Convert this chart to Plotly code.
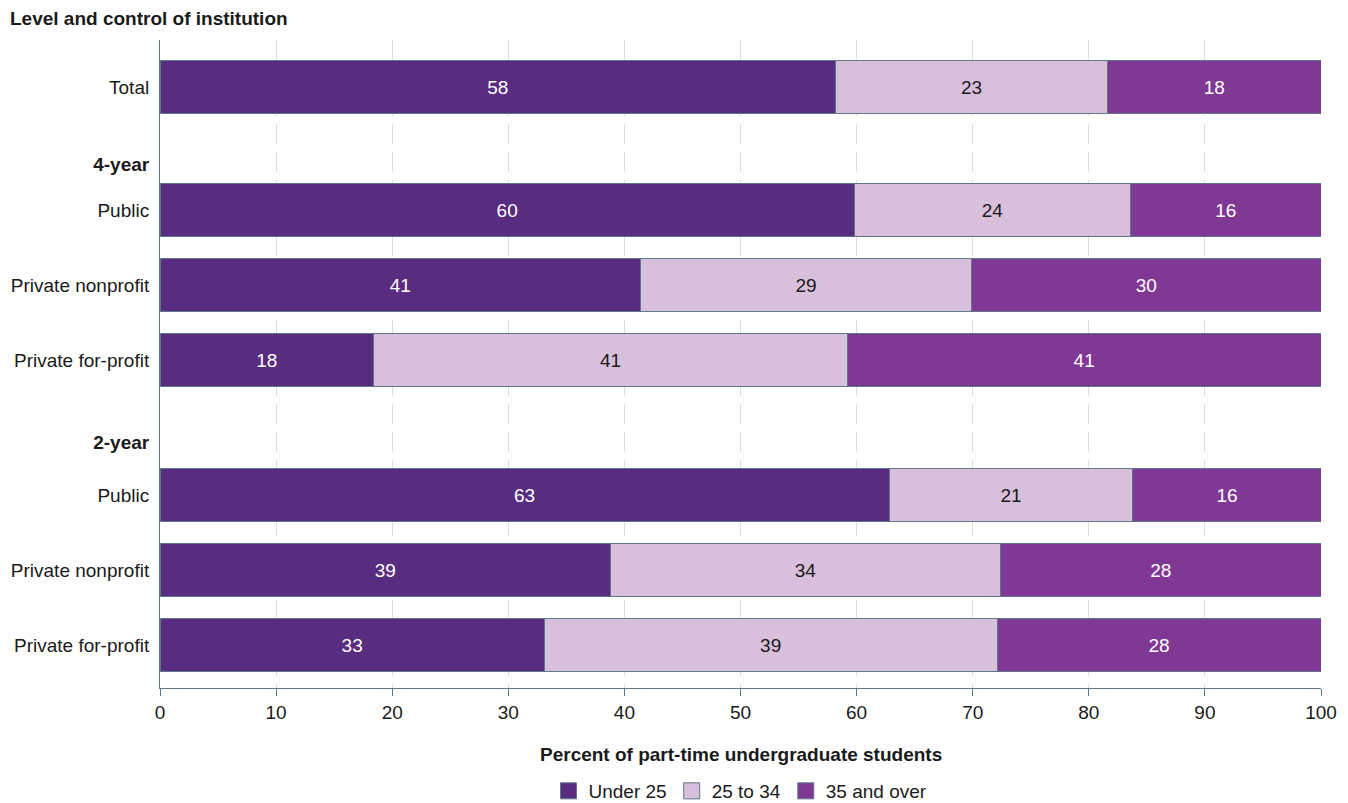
import plotly.graph_objects as go

# Rows from top to bottom; headers carry no bar
row_labels = ["Total", "4-year", "Public", "Private nonprofit", "Private for-profit",
              "2-year", "Public", "Private nonprofit", "Private for-profit"]
is_header = [False, True, False, False, False, True, False, False, False]

series_names = ["Under 25", "25 to 34", "35 and over"]
# Percent distribution for each bar row (Total, 4-year x3, 2-year x3)
under_25 = [58.2, 59.8, 41.4, 18.4, 62.8, 38.8, 33.1]
age_25_34 = [23.4, 23.8, 28.5, 40.8, 21.0, 33.6, 39.0]
over_35 = [18.4, 16.4, 30.1, 40.8, 16.2, 27.6, 27.9]

x_ticks = [0, 10, 20, 30, 40, 50, 60, 70, 80, 90, 100]

colors = ["#582c7e", "#d8bfdc", "#7f3995"]
text_colors = ["white", "#1a1a1a", "white"]
edge = "#5f7888"
font = "Liberation Sans, Arial, sans-serif"
fs = 19

# Vertical placement of rows (in row units, top = 0)
row_step = [0, 1.03, 0.61, 1.0, 1.0, 1.10, 0.70, 1.0, 1.0]
row_y = []
acc = 0.0
for s in row_step:
    acc += s
    row_y.append(acc)
bar_y = [y for y, h in zip(row_y, is_header) if not h]
tick_text = [f"<b>{t}</b>" if h else t for t, h in zip(row_labels, is_header)]

fig = go.Figure()
for name, vals, col, tcol in zip(series_names, [under_25, age_25_34, over_35], colors, text_colors):
    fig.add_trace(go.Bar(
        x=vals, y=bar_y, orientation="h", name=name,
        marker=dict(color=col, line=dict(color=edge, width=1)),
        width=0.707,
        text=vals, texttemplate="%{x:.0f}", textposition="inside",
        insidetextanchor="middle", textangle=0,
        textfont=dict(color=tcol, size=fs, family=font),
        showlegend=False, hoverinfo="skip",
    ))
    # Legend entry with a larger swatch
    fig.add_trace(go.Scatter(
        x=[None], y=[None], mode="markers", name=name,
        marker=dict(symbol="square", size=22, color=col, line=dict(color=edge, width=1)),
        showlegend=True,
    ))

fig.update_layout(
    barmode="stack",
    width=1348, height=803,
    margin=dict(l=160, r=27, t=40, b=115, autoexpand=False),
    paper_bgcolor="white", plot_bgcolor="white",
    font=dict(family=font, size=fs, color="#1a1a1a"),
    title=dict(text="<b>Level and control of institution</b>", x=10 / 1348, xref="container",
               xanchor="left", y=1 - 18 / 803, yref="container", yanchor="middle",
               font=dict(size=fs, family=font, color="#1a1a1a")),
    legend=dict(orientation="h", x=0.5, xanchor="center", y=-(791 - 688) / 648, yanchor="middle",
                font=dict(size=fs, family=font), itemsizing="trace",
                traceorder="normal", itemwidth=30, tracegroupgap=0),
    showlegend=True,
)

fig.update_xaxes(
    range=[0, 100], tickvals=x_ticks, ticks="outside", ticklen=7, tickcolor=edge,
    showline=True, linecolor=edge, linewidth=1,
    showgrid=True, gridcolor="#dcdcdc", griddash="20px,8px", gridwidth=1,
    zeroline=False, tickfont=dict(size=fs),
)
fig.update_yaxes(
    range=[8.01, -0.633], tickvals=row_y, ticktext=tick_text, ticks="",
    showline=True, linecolor=edge, linewidth=1, showgrid=False, zeroline=False,
    tickfont=dict(size=fs), ticklabelstandoff=6,
)

fig.add_annotation(text="<b>Percent of part-time undergraduate students</b>",
                   xref="paper", yref="paper", x=0.5, y=-(755 - 688) / 648,
                   xanchor="center", yanchor="middle", showarrow=False,
                   font=dict(size=fs, family=font, color="#1a1a1a"))

fig.write_html("out.html")
